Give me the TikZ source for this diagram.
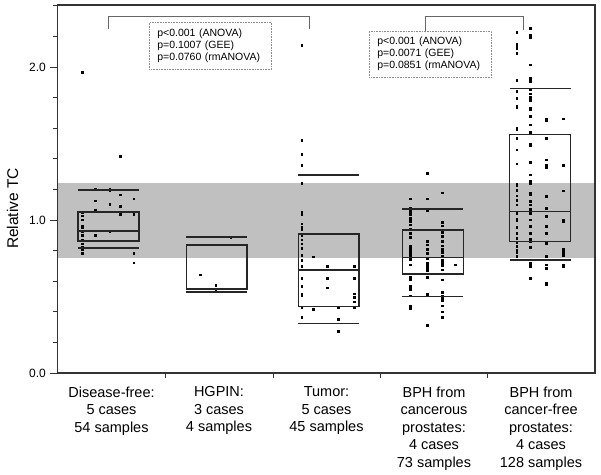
\documentclass[tikz,border=0pt]{standalone}
\usepackage{fontspec}
\setmainfont{Liberation Sans}
\definecolor{bandgray}{RGB}{192,192,192}
\tikzset{
  frame/.style={draw=black!80, line width=1.3pt},
  boxline/.style={draw=black!85, line width=1.1pt},
  bracket/.style={draw=black!60, line width=0.8pt},
  pbox/.style={draw=black!45, densely dotted, line width=0.6pt, align=left,
    text width=106pt, inner xsep=8pt, anchor=north west,
    font=\fontsize{10.5}{12.2}\selectfont},
  grouplabel/.style={align=center, anchor=north, inner sep=0pt,
    font=\fontsize{14.5}{17.5}\selectfont},
  ticklabel/.style={anchor=east, inner sep=0pt, font=\fontsize{12}{14}\selectfont},
}
\begin{document}
\begin{tikzpicture}[x=1pt,y=-1pt]
  \useasboundingbox (0,0) rectangle (601,474);

  \fill[bandgray] (58,183) rectangle (595,258);

  \begin{scope}[every node/.style={fill=black, inner sep=0pt}]
    \foreach \x/\ys in {82.3/{72.7,212.7,216,220,226,228,231.7,235.7,240,244,247.3,250,253.3},
        95.7/{189.3,201,210.3,235.7}, 110/{189.5,191,204.3,232},
        120.7/{156.3,195,206.3,214.7}, 134/{199,214.7,253.3,263},
        200.7/{275}, 216/{285.7,290.7}, 231/{237.7},
        302/{45.7,140.3,154.3,165.7,183.7,212.3,214.3,224,227.3,229.3,235.7,240,244,248.3,255.3,260.7,266.7,278.7,286.7,294,295.3,307.3,317.3},
        313.3/{257,309.7}, 327.7/{266.7,278.7,288}, 338.3/{307.3,319.3,331.3},
        354.3/{266.7,278.7,294,297.3,302,307.3},
        410.7/{199,208.3,210.5,212.5,214.5,218.3,221.7,225,229.3,233.3,237.3,246.7,249.3,251.7,254,256.7,259.5,265,277.3,280,286.7,289.3,296,306,308.3},
        427.3/{173.5,199,210.7,241.7,245,249.3,253.3,259,263.3,266,268.7,270.7,277.3,294.3,325.3},
        442.7/{192.8,222.7,226,230,232.7,236.7,241.7,246,249.3,252.7,256.7,260.7,263.3,266,270,274,280,292.7,296.7,298.3,300.7,306,312,317.3},
        455.3/{265},
        517/{32.3,44,46.7,49,53.3,80.7,91.7,98.3,106,107.3,128.3,130,138.3,150,164,184,186,190.7,196,200.7,205,213.3,219,220.7,227.3,233.3,238.3,242.7,246.7,250,252.7,256.7,260},
        530.7/{28.3,35.7,37.7,65,78.3,81.7,90,94,97.3,100.7,108.3,110,116.7,125,132.7,144,146,162.7,175,181.7,183.3,193.3,195,201.7,205,209.3,212.7,214,220,226.7,233.3,239.3,241.7,247.3,263.3,266.7,278.3},
        546.7/{119,120.7,138.3,160,165.7,167.7,196.7,208.3,216.7,226.7,233.3,243.3,256.7,265,268.3,283.3,285},
        563.3/{119,165.7,191,220,221.7,249.3,251.7,253.3,256,265,266.7}}
      \foreach \y in \ys
        \fill (\x-1.3,\y-1.3) rectangle ++(2.6,2.6);
  \end{scope}

  \foreach \xa/\xb/\ta/\tb/\hi/\lo in {78/139/212/241/190/248,
      186.3/247/245/289/237/292, 298.3/359/234/306.7/175/323.3,
      402.3/463.3/230/274/209/296.7, 509.7/570.7/134.3/241.3/88.3/260}
  {
    \draw[boxline] (\xa,\ta) rectangle (\xb,\tb);
    \draw[boxline] (\xa,\hi) -- (\xb,\hi);
    \draw[boxline] (\xa,\lo) -- (\xb,\lo);
  }
  \foreach \xa/\xb/\m in {78/139/231, 298.3/359/270, 402.3/463.3/257.7, 509.7/570.7/211.3}
    \draw[boxline] (\xa,\m) -- (\xb,\m);

  \draw[frame] (57.5,5) rectangle (595,373);
  \foreach \k in {1,2,3,4,6,7,8,9,11,12}
    \draw[frame, line width=1pt] (53,{373-30.6*\k}) -- (57.5,{373-30.6*\k});
  \foreach \k in {0,5,10}
    \draw[frame, line width=1pt] (50,{373-30.6*\k}) -- (57.5,{373-30.6*\k});
  \foreach \x in {165,273,380,487}
    \draw[frame, line width=1pt] (\x,373) -- (\x,378);

  \node[ticklabel] (t0) at (46,373) {0.0};
  \node[ticklabel] (t1) at (46,220) {1.0};
  \node[ticklabel] (t2) at (46,67) {2.0};
  \node[rotate=90, inner sep=0pt, font=\fontsize{15.5}{18}\selectfont] (ylab) at (12.5,208.5) {Relative TC};

  \node[grouplabel] (g1) at (111.5,386.5) {Disease-free:\\5 cases\\54 samples};
  \node[grouplabel] (g2) at (219,386.5) {HGPIN:\\3 cases\\4 samples};
  \node[grouplabel] (g3) at (326.5,386.5) {Tumor:\\5 cases\\45 samples};
  \node[grouplabel] (g4) at (434,386.5) {BPH from\\cancerous\\prostates:\\4 cases\\73 samples};
  \node[grouplabel] (g5) at (541,386.5) {BPH from\\cancer-free\\prostates:\\4 cases\\128 samples};

  \coordinate (b1a) at (108,29);
  \coordinate (b1b) at (309.3,29);
  \coordinate (b2a) at (425,30.7);
  \coordinate (b2b) at (523.3,30);
  \draw[bracket] (b1a) |- (309.3,16) -- (b1b);
  \draw[bracket] (b2a) |- (523.3,16) -- (b2b);

  \node[pbox, minimum height=47pt] (p1) at (149,22) {p<0.001 (ANOVA)\\p=0.1007 (GEE)\\p=0.0760 (rmANOVA)};
  \node[pbox, minimum height=46pt] (p2) at (369,30.7) {p<0.001 (ANOVA)\\p=0.0071 (GEE)\\p=0.0851 (rmANOVA)};
\end{tikzpicture}
\end{document}
